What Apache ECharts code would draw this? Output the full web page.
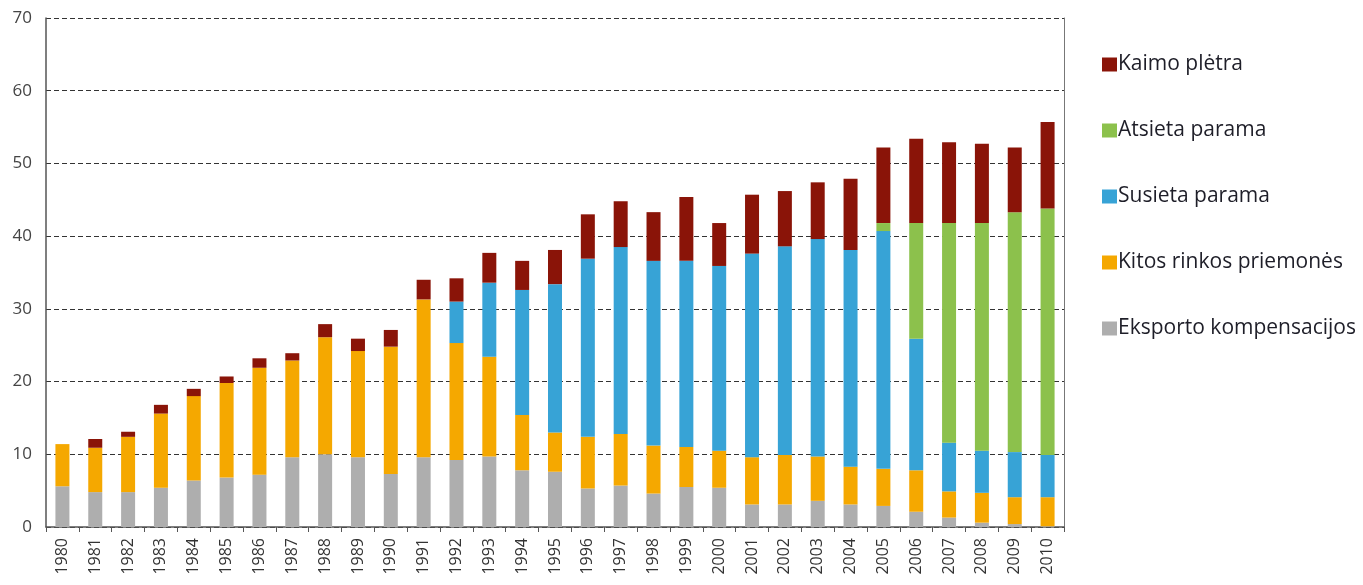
<!DOCTYPE html>
<html>
<head>
<meta charset="utf-8">
<script src="https://cdn.jsdelivr.net/npm/echarts@6/dist/echarts.min.js"></script>
<style>
  html, body { margin: 0; padding: 0; background: #fff; }
  #chart { width: 1363px; height: 585px; }
</style>
</head>
<body>
<div id="chart"></div>
<script>
var years = ['1980','1981','1982','1983','1984','1985','1986','1987','1988','1989','1990',
  '1991','1992','1993','1994','1995','1996','1997','1998','1999','2000',
  '2001','2002','2003','2004','2005','2006','2007','2008','2009','2010'];

// stacked from the bottom up
var eksportoKomp = [5.6,4.8,4.8,5.4,6.4,6.8,7.2,9.6,10.0,9.6,7.3,
  9.6,9.2,9.7,7.8,7.6,5.3,5.7,4.6,5.5,5.4,
  3.1,3.1,3.6,3.1,2.9,2.1,1.3,0.6,0.4,0.1];
var kitosRinkos = [5.8,6.1,7.6,10.2,11.6,13.0,14.7,13.3,16.1,14.6,17.5,
  21.7,16.1,13.7,7.6,5.4,7.1,7.1,6.6,5.5,5.1,
  6.5,6.8,6.1,5.2,5.1,5.7,3.6,4.1,3.7,4.0];
var susietaParama = [0,0,0,0,0,0,0,0,0,0,0,
  0,5.7,10.2,17.2,20.4,24.5,25.7,25.4,25.6,25.4,
  28.0,28.7,29.9,29.8,32.7,18.1,6.7,5.8,6.2,5.8];
var atsietaParama = [0,0,0,0,0,0,0,0,0,0,0,
  0,0,0,0,0,0,0,0,0,0,
  0,0,0,0,1.1,15.9,30.2,31.3,33.0,33.9];
var kaimoPletra = [0,1.2,0.7,1.2,1.0,0.9,1.3,1.0,1.8,1.7,2.3,
  2.7,3.2,4.1,4.0,4.7,6.1,6.3,6.7,8.8,5.9,
  8.1,7.6,7.8,9.8,10.4,11.6,11.1,10.9,8.9,11.9];

var legendNames = ['Kaimo plėtra','Atsieta parama','Susieta parama','Kitos rinkos priemonės','Eksporto kompensacijos'];

var font = 'Open Sans';
var chart = echarts.init(document.getElementById('chart'));

function bar(name, data, color) {
  return {
    name: name,
    type: 'bar',
    stack: 'total',
    barWidth: 14,
    data: data,
    itemStyle: { color: color },
    emphasis: { disabled: true }
  };
}

var option = {
  animation: false,
  textStyle: { fontFamily: font },
  grid: { left: 46, right: 299, top: 18, bottom: 58 },
  legend: {
    data: legendNames,
    orient: 'vertical',
    left: 1097,
    top: 49,
    itemWidth: 15,
    itemHeight: 14,
    itemGap: 45,
    icon: 'rect',
    textStyle: { fontFamily: font, fontSize: 21, color: '#1e1e28', padding: [0, 0, 0, -4] }
  },
  xAxis: {
    type: 'category',
    data: years,
    axisLine: { lineStyle: { color: '#555', width: 1.5 } },
    axisTick: { show: true, length: 5, lineStyle: { color: '#555' } },
    axisLabel: { rotate: 90, fontSize: 16, color: '#333', margin: 11, fontFamily: font }
  },
  yAxis: [{
    type: 'value',
    min: 0,
    max: 70,
    interval: 10,
    axisLine: { show: true, lineStyle: { color: '#555', width: 1.5 } },
    axisTick: { show: false },
    axisLabel: { fontSize: 17, color: '#444', margin: 14, fontFamily: font },
    splitLine: { lineStyle: { color: '#333', type: [5, 3], width: 1 } }
  }, {
    type: 'value',
    position: 'right',
    min: 0,
    max: 70,
    interval: 10,
    axisLine: { show: true, lineStyle: { color: '#777', width: 1 } },
    axisTick: { show: false },
    axisLabel: { show: false },
    splitLine: { show: false }
  }],
  series: [
    bar('Eksporto kompensacijos', eksportoKomp, '#aeaeae'),
    bar('Kitos rinkos priemonės', kitosRinkos, '#f5a800'),
    bar('Susieta parama', susietaParama, '#37a3d6'),
    bar('Atsieta parama', atsietaParama, '#8cc14c'),
    bar('Kaimo plėtra', kaimoPletra, '#8a1408')
  ]
};

chart.setOption(option);
</script>
</body>
</html>
